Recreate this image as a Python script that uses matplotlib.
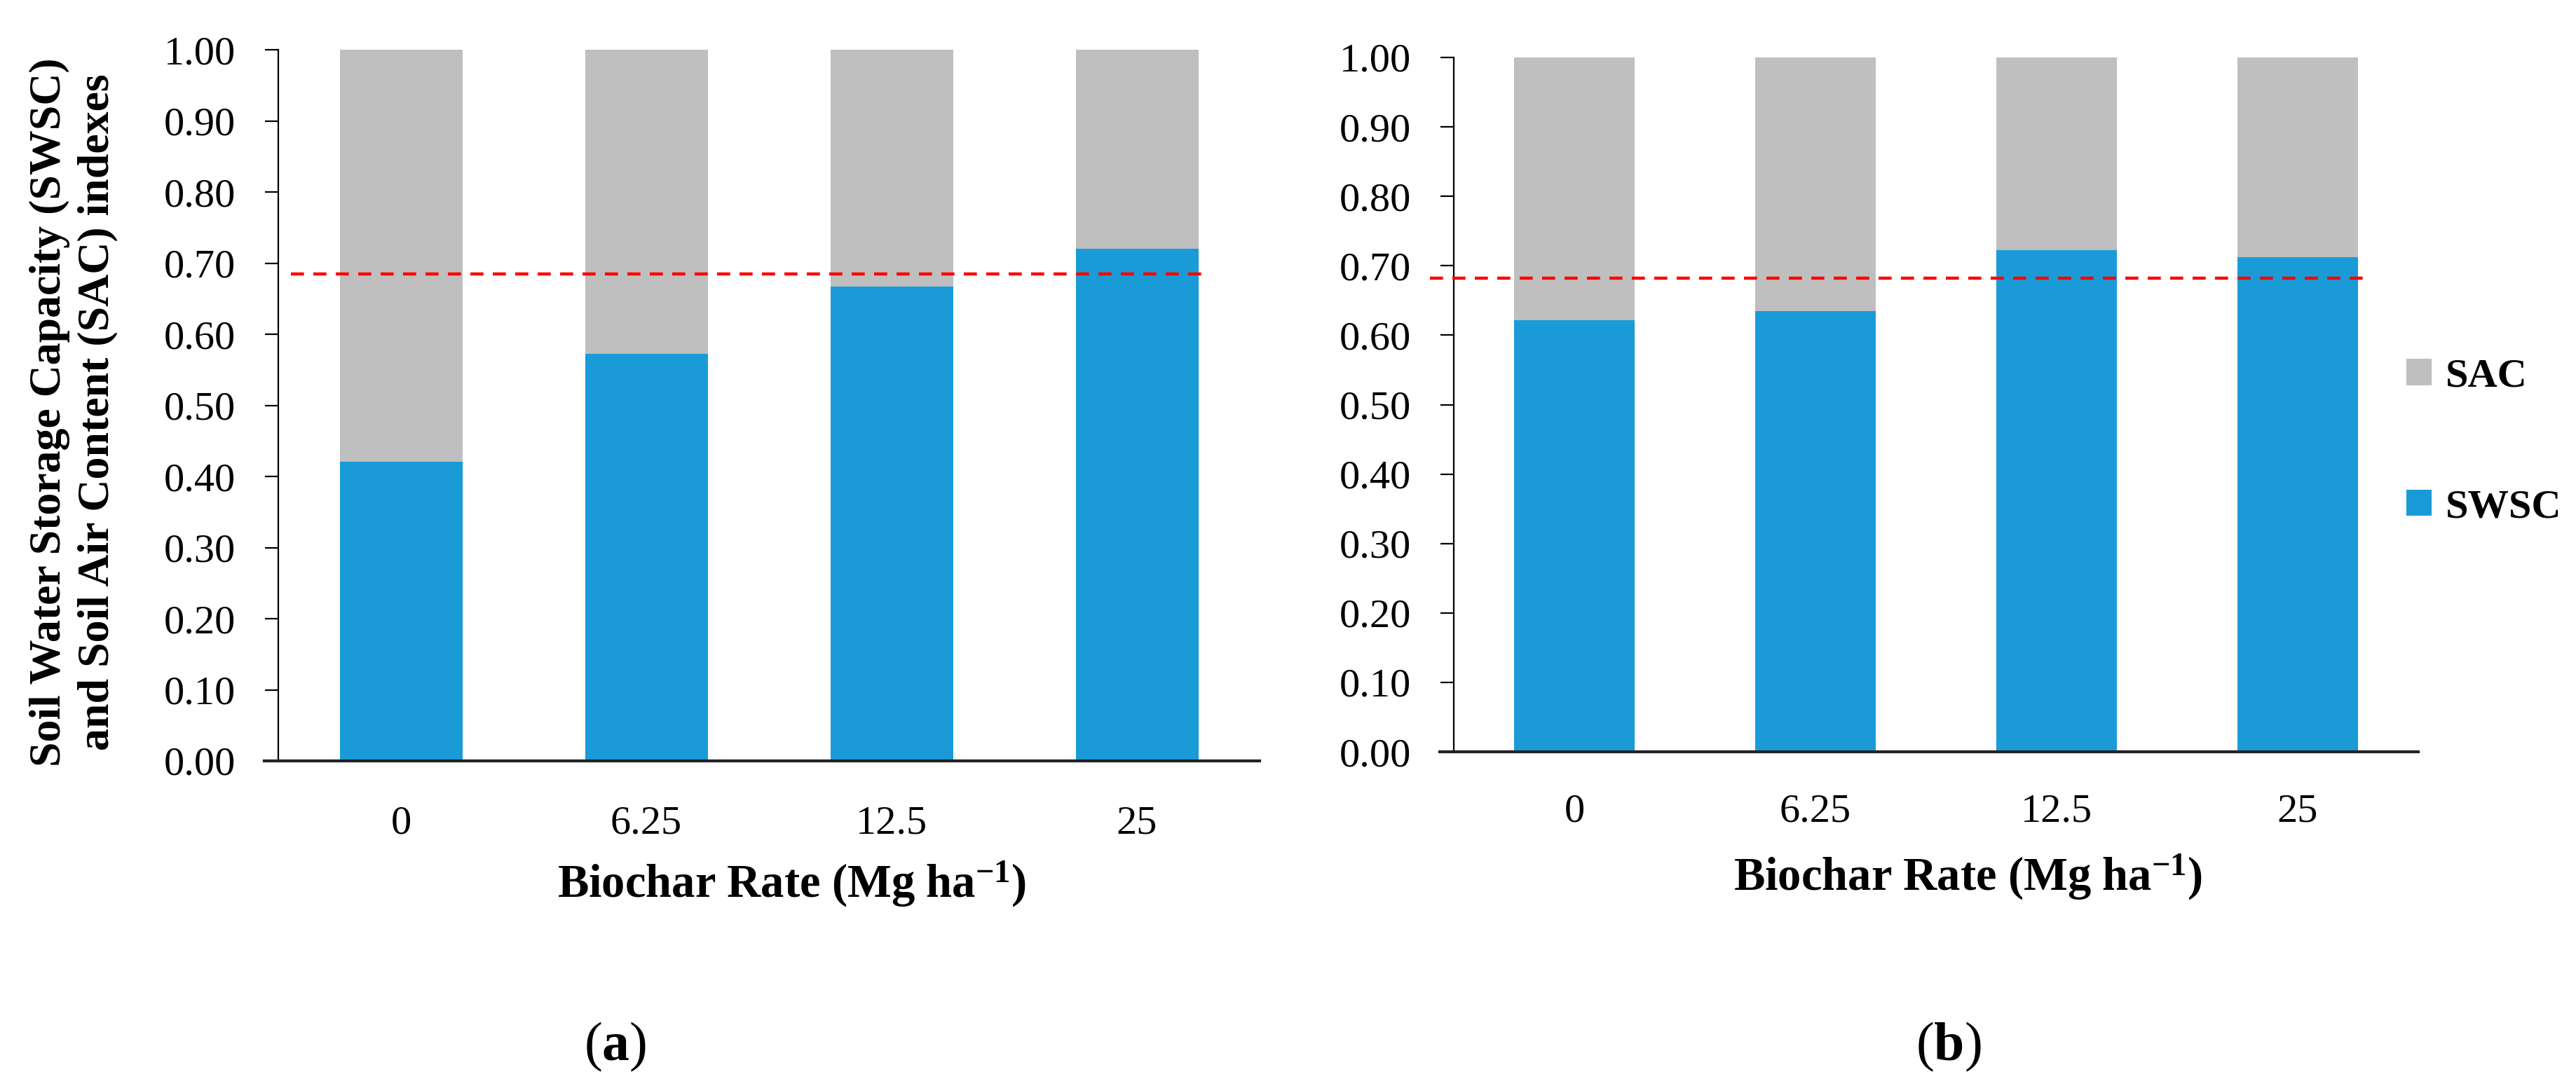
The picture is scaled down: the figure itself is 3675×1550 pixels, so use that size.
import matplotlib
matplotlib.use("Agg")
import matplotlib.pyplot as plt
from matplotlib.patches import Patch
import numpy as np

plt.rcParams['font.family'] = ['Liberation Serif', 'DejaVu Serif']
plt.rcParams['mathtext.fontset'] = 'custom'
plt.rcParams['mathtext.rm'] = 'Liberation Serif'
plt.rcParams['mathtext.bf'] = 'Liberation Serif:bold'
plt.rcParams['mathtext.it'] = 'Liberation Serif:italic'

# ---- data ----
categories = ["0", "6.25", "12.5", "25"]
swsc_a = [0.421, 0.572, 0.667, 0.720]
sac_a = [1 - v for v in swsc_a]
ref_a = 0.685
swsc_b = [0.622, 0.635, 0.723, 0.712]
sac_b = [1 - v for v in swsc_b]
ref_b = 0.682
yticks = [0.0, 0.1, 0.2, 0.3, 0.4, 0.5, 0.6, 0.7, 0.8, 0.9, 1.0]

BLUE = '#1A9BD7'
GRAY = '#BFBFBF'
RED = '#FF0000'

W, H = 3675, 1550
DPI = 200
fig = plt.figure(figsize=(W / DPI, H / DPI), dpi=DPI)

def px_axes(x0, x1, y0, y1):
    return fig.add_axes([x0 / W, 1 - y1 / H, (x1 - x0) / W, (y1 - y0) / H])

ax_a = px_axes(397, 1797, 71, 1086)
ax_b = px_axes(2074, 3450, 82, 1073)

def draw(ax, swsc, sac, ref, xpad, dash_start):
    x = np.arange(len(categories))
    ax.bar(x, swsc, width=0.5, color=BLUE, label='SWSC', zorder=2)
    ax.bar(x, sac, width=0.5, bottom=swsc, color=GRAY, label='SAC', zorder=2)
    ax.plot([dash_start, len(categories) - 1 + 0.27], [ref, ref], color=RED,
            lw=1.6, dashes=(4.2, 3.0), zorder=3, clip_on=False)
    ax.set_xlim(-0.5, len(categories) - 0.5)
    ax.set_ylim(0, 1.0)
    ax.set_yticks(yticks)
    ax.set_yticklabels([f"{v:.2f}" for v in yticks])
    ax.set_xticks(x)
    ax.set_xticklabels(categories)
    for s in ['top', 'right']:
        ax.spines[s].set_visible(False)
    ax.spines['left'].set_linewidth(0.8)
    ax.spines['bottom'].set_linewidth(1.5)
    ax.spines['bottom'].set_color('#222222')
    ax.tick_params(axis='y', direction='out', length=7, width=0.8, pad=15, labelsize=21)
    ax.tick_params(axis='x', length=0, pad=xpad, labelsize=21)
    # extend the baseline slightly to the left like the tick marks
    ax.plot([-0.5 - 20 / 350, -0.5], [0, 0], color='#222222', lw=1.5, clip_on=False, zorder=4)

draw(ax_a, swsc_a, sac_a, ref_a, 23, -0.45)
draw(ax_b, swsc_b, sac_b, ref_b, 21.5, -0.6)

lab = r'$\mathbf{Biochar\ Rate\ (Mg\ ha^{-1})}$'
fig.text(1130 / W, 1 - 1280 / H, lab, ha='center', va='baseline', fontsize=24)
fig.text(2808 / W, 1 - 1270 / H, lab, ha='center', va='baseline', fontsize=24)

fig.text(105 / W, 1 - 588 / H,
         "Soil Water Storage Capacity (SWSC)\nand Soil Air Content (SAC) indexes",
         rotation=90, ha='center', va='center', fontsize=23, fontweight='bold',
         linespacing=1.25, multialignment='center')

fig.text(878 / W, 1 - 1494 / H, r'($\mathbf{a}$)', ha='center', va='center', fontsize=28)
fig.text(2780 / W, 1 - 1494 / H, r'($\mathbf{b}$)', ha='center', va='center', fontsize=28)

handles = [Patch(facecolor=GRAY, label='SAC'), Patch(facecolor=BLUE, label='SWSC')]
leg = fig.legend(handles=handles, loc='center left', bbox_to_anchor=(3433 / W, 1 - 631 / H),
                 frameon=False, fontsize=21, borderpad=0, borderaxespad=0,
                 handlelength=0.62, handleheight=0.62, handletextpad=0.33, labelspacing=2.3,
                 prop={'weight': 'bold', 'size': 21})

fig.savefig('out.png', dpi=DPI, facecolor='white')
